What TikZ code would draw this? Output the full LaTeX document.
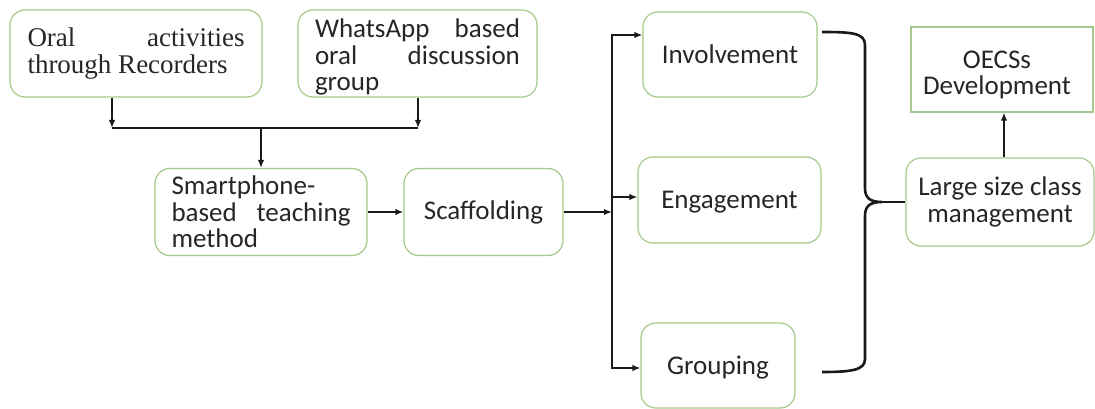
\documentclass[tikz,border=0pt]{standalone}
\usepackage{fontspec}
\setmainfont{Carlito}
\newfontfamily\tnr{Liberation Serif}
\usetikzlibrary{arrows.meta}
\definecolor{boxgreen}{RGB}{165,200,140}
\tikzset{
  rbox/.style={draw=boxgreen, line width=1.2pt, rounded corners=15pt, inner sep=0pt,
    font=\fontsize{27}{26.5}\selectfont, text=black!85},
  sbox/.style={draw=boxgreen, line width=1.1pt, inner sep=0pt},
  txt/.style={inner sep=0pt, font=\fontsize{27}{26.5}\selectfont, text=black!85},
  conn/.style={line width=2.6pt, black!90},
  arr/.style={conn, -{Latex[length=8pt,width=6.5pt]}},
}
\begin{document}
\begin{tikzpicture}[x=1pt,y=-1pt]
\useasboundingbox (0,0) rectangle (1095,409);
% boxes
\node[rbox, minimum width=252pt, minimum height=87pt, text width=217pt, align=justify, font=\tnr\fontsize{27}{27.5}\selectfont] (b1) at (136,53.5)
  {Oral activities\linebreak through Recorders};
\node[rbox, minimum width=239pt, minimum height=87pt] (b2) at (417.5,53.5) {};
\node[txt, text width=205pt, align=justify] (b2t) at (417.5,57)
  {WhatsApp based\linebreak oral discussion\linebreak group};
\node[rbox, minimum width=212pt, minimum height=87pt, text width=179pt, align=justify] (sp) at (261,212)
  {Smartphone-\\based teaching\linebreak method};
\node[rbox, minimum width=159pt, minimum height=87pt] (sc) at (483.5,212) {Scaffolding};
\node[rbox, minimum width=174pt, minimum height=85pt] (inv) at (730,54.5) {Involvement};
\node[rbox, minimum width=183pt, minimum height=86pt, text depth=0pt] (eng) at (729.5,200) {Engagement};
\node[rbox, minimum width=154pt, minimum height=85pt, text depth=0pt] (grp) at (718,365.5) {Grouping};
\node[rbox, minimum width=188pt, minimum height=88pt, align=center] (lsc) at (1000,202)
  {Large size class\\management};
\node[sbox, minimum width=182pt, minimum height=85pt] (oecs) at (1002,69.5) {};
\node[txt, align=center] (oecst) at (997,75) {OECSs\\Development};
% top merge
\coordinate (j1) at (112,128);
\coordinate (j2) at (418,128);
\draw[arr] (b1.south -| j1) -- (j1);
\draw[arr] (b2.south -| j2) -- (j2);
\draw[conn] (j1) -- (j2);
\draw[arr] (sp.north |- j1) -- (sp.north);
\draw[arr] (sp.east) -- (sc.west);
% bus
\coordinate (bt) at (612,35);
\coordinate (bb) at (612,368);
\draw[arr] (sc.east) -- (sc.east -| bt);
\draw[conn, {Latex[length=8pt,width=6.5pt]}-{Latex[length=8pt,width=6.5pt]}] (bt -| inv.west) -- (bt) -- (bb) -- (bb -| grp.west);
\draw[arr] (bt |- 0,197) -- (eng.west |- 0,197);
% brace
\coordinate (br1) at (822,32);
\coordinate (br2) at (822,372);
\coordinate (tip) at (882,202);
\draw[conn] (br1) .. controls (852,32) and (865,33) .. (865,45) -- (865,188)
  .. controls (865,198) and (870,202) .. (tip)
  .. controls (870,202) and (865,206) .. (865,216) -- (865,359)
  .. controls (865,370) and (852,372) .. (br2);
\draw[conn] (tip) -- (lsc.west);
\draw[arr] (lsc.north -| 1004,0) -- (oecs.south -| 1004,0);
\end{tikzpicture}
\end{document}
